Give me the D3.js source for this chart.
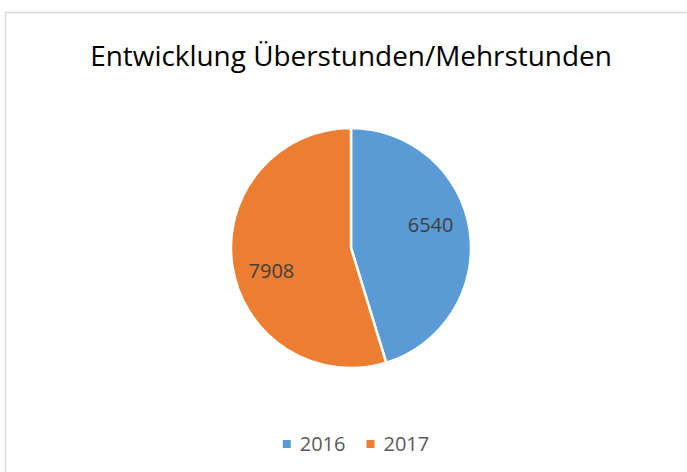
<!DOCTYPE html>
<html>
<head>
<meta charset="utf-8">
<script src="https://cdn.jsdelivr.net/npm/d3@7"></script>
<style>
  body { margin: 0; background: #fff; }
  svg text { font-family: "Open Sans", "Noto Sans", sans-serif; }
</style>
</head>
<body>
<div id="chart"></div>
<script>
  //chart data
  const years = ["2016", "2017"]
  const hours = [6540, 7908]
  const colors = ["#5B9BD5", "#ED7D31"]
  const title = "Entwicklung Überstunden/Mehrstunden"

  const width = 687
  const height = 472

  const svg = d3.select("#chart").append("svg")
    .attr("width", width)
    .attr("height", height)

  //chart area border (runs off the right and bottom edge)
  svg.append("rect")
    .attr("x", 5.5).attr("y", 12.5)
    .attr("width", 720).attr("height", 500)
    .attr("fill", "#fff")
    .attr("stroke", "#d9d9d9")
    .attr("stroke-width", 1.5)

  //title, sized so it spans the same width as the reference
  const titleText = svg.append("text")
    .attr("x", 351)
    .attr("y", 66)
    .attr("text-anchor", "middle")
    .attr("fill", "#000")
    .style("font-size", "28px")
    .text(title)
  const tw = titleText.node().getComputedTextLength()
  titleText.style("font-size", (28 * 522 / tw) + "px")

  //pie
  const cx = 351, cy = 248, radius = 120
  const pie = d3.pie().sort(null).value(d => d)
  const arcs = pie(hours)
  const arc = d3.arc().innerRadius(0).outerRadius(radius)
  //labels sit a little counter-clockwise of the slice middle, like excel's best fit
  const labelRadius = radius * 0.69
  const labelShift = -7.5 * Math.PI / 180
  function labelPos(d) {
    const a = (d.startAngle + d.endAngle) / 2 + labelShift
    return [labelRadius * Math.sin(a), -labelRadius * Math.cos(a)]
  }

  const pieG = svg.append("g")
    .attr("transform", "translate(" + cx + "," + cy + ")")

  pieG.selectAll("path")
    .data(arcs)
    .enter().append("path")
    .attr("d", arc)
    .attr("fill", (d, i) => colors[i])
    .attr("stroke", "#fff")
    .attr("stroke-width", 2.5)
    .attr("stroke-linejoin", "round")

  pieG.selectAll("text")
    .data(arcs)
    .enter().append("text")
    .attr("transform", d => "translate(" + labelPos(d) + ")")
    .attr("text-anchor", "middle")
    .attr("dy", "0.35em")
    .attr("fill", "#404040")
    .style("font-size", "20px")
    .text(d => d.data)

  //legend
  const legend = svg.append("g")
  let lx = 0
  years.forEach((y, i) => {
    const item = legend.append("g").attr("transform", "translate(" + lx + ",0)")
    item.append("rect")
      .attr("x", 0).attr("y", -11)
      .attr("width", 8).attr("height", 8)
      .attr("fill", colors[i])
    const t = item.append("text")
      .attr("x", 17).attr("y", 0)
      .attr("fill", "#595959")
      .style("font-size", "20px")
      .text(y)
    lx += 17 + t.node().getComputedTextLength() + 21
  })
  const lw = legend.node().getBBox().width
  legend.attr("transform", "translate(" + (356 - lw / 2) + ",451)")
</script>
</body>
</html>
